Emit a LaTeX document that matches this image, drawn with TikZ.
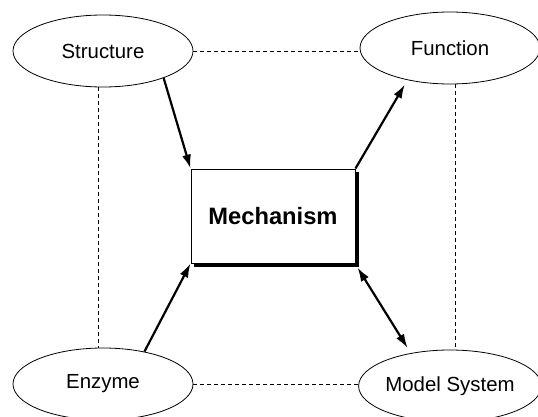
\documentclass[tikz,border=0pt]{standalone}
\usepackage{fontspec}
\setmainfont{Liberation Sans}
\usetikzlibrary{arrows.meta,shapes.geometric}
\begin{document}
\begin{tikzpicture}[x=1pt, y=1pt, font=\fontsize{20.4}{24}\selectfont]
    \tikzstyle{topic} = [ellipse, draw, line width=0.8pt, minimum width=180pt, minimum height=72pt, inner sep=0pt]
    \tikzstyle{core} = [rectangle, draw, fill=white, line width=0.9pt, minimum width=164pt, minimum height=94pt, font=\fontsize{23.7}{28}\selectfont\bfseries]
    \tikzstyle{link} = [line width=2.2pt, -{Latex[length=14pt,width=9pt]}]
    \tikzstyle{twoway} = [line width=2.2pt, {Latex[length=14pt,width=9pt]}-{Latex[length=14pt,width=9pt]}]
    \tikzstyle{tie} = [line width=0.7pt, dash pattern=on 4pt off 3pt]

    \useasboundingbox (0,0) rectangle (538,416);

    \node [core] (mech) at (273,200) {Mechanism};
    \node [topic] (struct) at (103,365) {Structure};
    \node [topic] (func) at (450,368) {Function};
    \node [topic] (enz) at (103,32) {Enzyme};
    \node [topic] (model) at (450,30) {Model System};

    % shadow on the box
    \draw [line width=4pt] ([xshift=2pt, yshift=-3pt]mech.north east) -- ([xshift=2pt, yshift=-2pt]mech.south east) -- ([xshift=3pt, yshift=-2pt]mech.south west);

    \draw [tie] (struct.east) -- (struct.east -| func.west);
    \draw [tie] (enz.east) -- (enz.east -| model.west);
    \draw [tie] ([xshift=-5pt]struct.south) -- ([xshift=-5pt]enz.north);
    \draw [tie] ([xshift=5pt]func.south) -- ([xshift=5pt]model.north);

    \draw [link] (struct.-24) -- (mech.north west);
    \draw [link, shorten >=5pt] (mech.north east) -- (func.217);
    \draw [link] (enz.38) -- (mech.south west);
    \draw [twoway, shorten >=6pt] ([xshift=2pt, yshift=-4pt]mech.south east) -- (model.140);
\end{tikzpicture}
\end{document}
